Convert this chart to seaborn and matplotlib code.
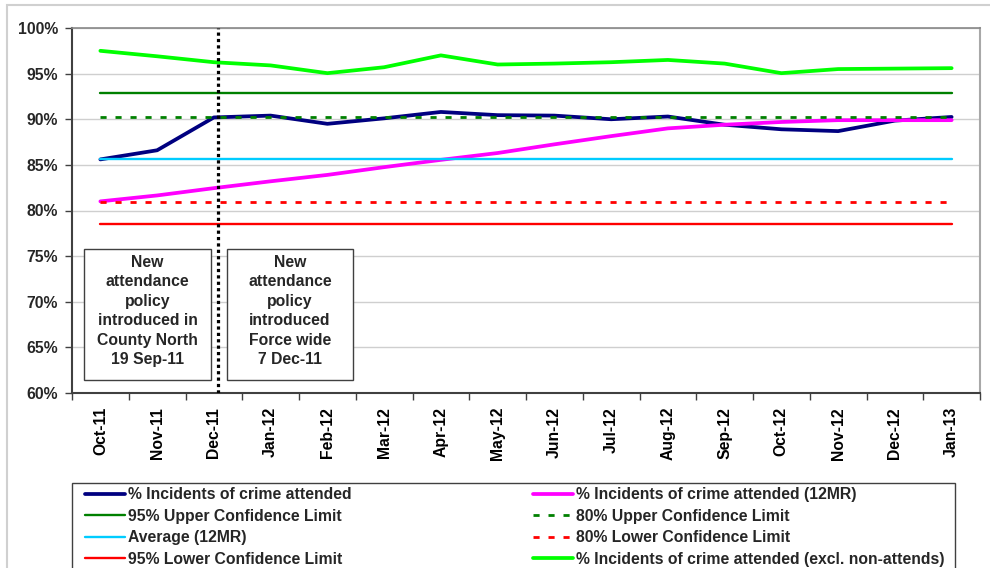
import numpy as np
import pandas as pd
import seaborn as sns
import matplotlib
matplotlib.use("Agg")
import matplotlib.pyplot as plt
from matplotlib.patches import Rectangle

# ---------- Data ----------
months = ['Oct-11', 'Nov-11', 'Dec-11', 'Jan-12', 'Feb-12', 'Mar-12', 'Apr-12', 'May-12',
          'Jun-12', 'Jul-12', 'Aug-12', 'Sep-12', 'Oct-12', 'Nov-12', 'Dec-12', 'Jan-13']

attended = [85.6, 86.6, 90.2, 90.4, 89.5, 90.1, 90.8, 90.45,
            90.4, 90.0, 90.3, 89.4, 88.9, 88.7, 89.85, 90.25]
attended_12mr = [81.0, 81.65, 82.45, 83.2, 83.9, 84.75, 85.55, 86.3,
                 87.25, 88.15, 89.0, 89.4, 89.7, 89.9, 89.9, 89.9]
attended_excl = [97.5, 96.9, 96.25, 95.9, 95.05, 95.7, 97.0, 96.0,
                 96.1, 96.25, 96.5, 96.1, 95.05, 95.5, 95.55, 95.6]

ucl_95 = 92.85
ucl_80 = 90.3
average_12mr = 85.6
lcl_80 = 80.95
lcl_95 = 78.5

policy_line_pos = 2.07  # 7 Dec-11, just after the Dec-11 point

note_north = "New\nattendance\npolicy\nintroduced in\nCounty North\n19 Sep-11"
note_force = "New\nattendance\npolicy\nintroduced\nForce wide\n7 Dec-11"

df = pd.DataFrame({
    'pos': np.arange(len(months)),
    'attended': attended,
    'attended_12mr': attended_12mr,
    'ucl_95': ucl_95,
    'ucl_80': ucl_80,
    'average_12mr': average_12mr,
    'lcl_80': lcl_80,
    'lcl_95': lcl_95,
    'attended_excl': attended_excl,
})

# ---------- Style ----------
sns.set_theme(style="white")
plt.rcParams['font.family'] = ['Liberation Sans', 'DejaVu Sans']
plt.rcParams['font.weight'] = 'bold'
fs = 11.3

# column, label, colour, width, dashes (None = solid)
series = [
    ('attended', '% Incidents of crime attended', '#000080', 2.7, None),
    ('attended_12mr', '% Incidents of crime attended (12MR)', '#FF00FF', 2.7, None),
    ('ucl_95', '95% Upper Confidence Limit', '#008000', 1.7, None),
    ('ucl_80', '80% Upper Confidence Limit', '#008000', 2.0, (2.2, 3.2)),
    ('average_12mr', 'Average (12MR)', '#00CCFF', 1.7, None),
    ('lcl_80', '80% Lower Confidence Limit', '#FF0000', 2.0, (2.2, 3.2)),
    ('lcl_95', '95% Lower Confidence Limit', '#FF0000', 1.7, None),
    ('attended_excl', '% Incidents of crime attended (excl. non-attends)', '#00FF00', 2.7, None),
]

fig = plt.figure(figsize=(9.9, 5.68), dpi=100)
ax = fig.add_axes([72 / 990, 1 - 393 / 568, (980 - 72) / 990, (393 - 28) / 568])

for i, (col, label, color, lw, dash) in enumerate(series):
    kw = {}
    if dash is not None:
        kw['linestyle'] = (0, dash)
    sns.lineplot(data=df, x='pos', y=col, ax=ax, color=color, linewidth=lw,
                 label=label, legend=False, zorder=3 + i, **kw)

ax.axvline(policy_line_pos, color='black', linewidth=2.3, linestyle=(0, (1, 1)), zorder=20)

# ---------- Axes ----------
ax.set_xlim(-0.5, len(months) - 0.5)
ax.set_ylim(60, 100)
ax.set_xlabel('')
ax.set_ylabel('')
ax.set_yticks(np.arange(60, 101, 5))
ax.set_yticklabels([f'{v}%' for v in range(60, 101, 5)], fontsize=fs, fontweight='bold')
ax.set_xticks(np.arange(len(months)))
ax.set_xticklabels(months, rotation=90, fontsize=fs, fontweight='bold')
ax.set_xticks(np.arange(-0.5, len(months)), minor=True)
ax.tick_params(axis='x', which='major', length=0, pad=10, colors='black')
ax.tick_params(axis='x', which='minor', length=5, width=1, color='#404040', direction='out', bottom=True)
ax.tick_params(axis='y', which='major', length=5, width=1, color='#404040', direction='out', left=True, pad=5)
ax.grid(axis='y', color='#cfcfcf', linewidth=1)
ax.set_axisbelow(True)

ax.spines['left'].set_color('#404040')
ax.spines['left'].set_linewidth(1.5)
ax.spines['bottom'].set_color('#404040')
ax.spines['bottom'].set_linewidth(1.5)
ax.spines['top'].set_color('#888888')
ax.spines['top'].set_linewidth(1.2)
ax.spines['right'].set_color('#a8a8a8')
ax.spines['right'].set_linewidth(1.5)

# ---------- Notes ----------
for (x0, x1), txt in [((-0.29, 1.95), note_north), ((2.23, 4.45), note_force)]:
    ax.add_patch(Rectangle((x0, 61.4), x1 - x0, 75.8 - 61.4, facecolor='white',
                           edgecolor='#404040', linewidth=1, zorder=25))
    ax.text((x0 + x1) / 2, 69.0, txt, ha='center', va='center', fontsize=fs,
            fontweight='bold', linespacing=1.37, zorder=26)

# ---------- Legend ----------
handles, labels = ax.get_legend_handles_labels()
order = [0, 2, 4, 6, 1, 3, 5, 7]
fig.legend([handles[i] for i in order], [labels[i] for i in order],
           loc='upper left', bbox_to_anchor=(85 / 990, 1 - 487 / 568, (945 - 85) / 990, 0),
           mode='expand', ncol=2, frameon=False, borderpad=0, borderaxespad=0,
           handlelength=2.55, handletextpad=0.2, labelspacing=0.42,
           prop={'size': fs, 'weight': 'bold'})
fig.add_artist(Rectangle((72 / 990, -0.1), (955 - 72) / 990, 0.1 + (568 - 483) / 568,
                         transform=fig.transFigure, fill=False, edgecolor='#404040',
                         linewidth=1, clip_on=False))

# light outer chart frame
fig.add_artist(Rectangle((7 / 990, -0.1), 1.1, 0.1 + (568 - 5) / 568,
                         transform=fig.transFigure, fill=False, edgecolor='#d0d0d0',
                         linewidth=1.5, clip_on=False))

fig.savefig('out.png', dpi=100)
